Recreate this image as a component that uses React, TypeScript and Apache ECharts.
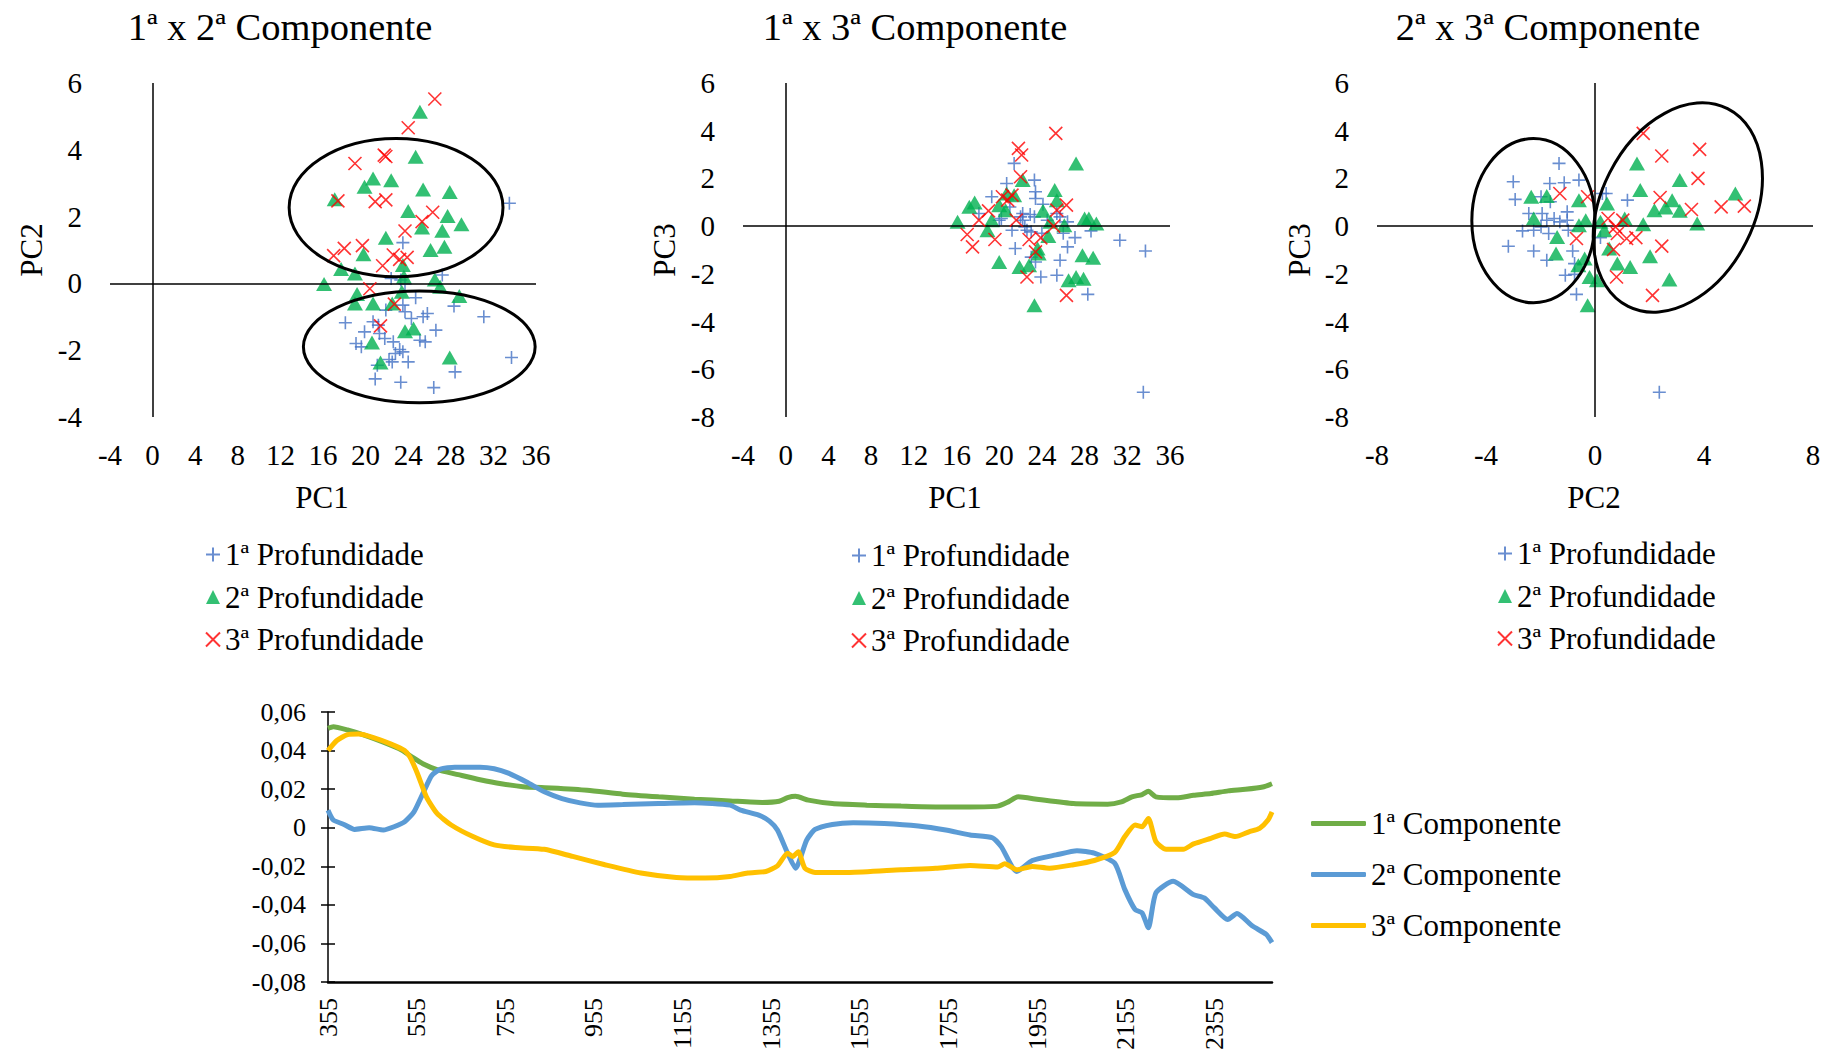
import React, { useEffect, useRef } from 'react';
import * as echarts from 'echarts';

const FONT = 'Liberation Serif';
const BLUE = '#4472C4';
const GREEN = '#00B050';
const RED = '#FF0000';

const depthNames = ['1ª Profundidade', '2ª Profundidade', '3ª Profundidade'];
const compNames = ['1ª Componente', '2ª Componente', '3ª Componente'];
const chartTitles = ['1ª x 2ª Componente', '1ª x 3ª Componente', '2ª x 3ª Componente'];

// ---- 1ª x 2ª (PC1, PC2)
const d1_pc12 = [[33.5,2.4],[23.5,1.22],[27.2,0.25],[22.4,0.15],[23.3,0.1],[23.7,-0.02],[24.7,-0.43],[28.3,-0.68],[31.1,-1.0],[21.9,-0.8],[23.5,-0.65],[23.7,-0.85],[24.3,-1.05],[25.4,-1.0],[25.8,-0.9],[18.1,-1.18],[20.7,-1.15],[21.2,-1.25],[19.9,-1.45],[21.3,-1.5],[26.6,-1.4],[25.1,-1.7],[25.6,-1.75],[21.8,-1.65],[22.6,-1.75],[19.1,-1.8],[19.6,-1.9],[23.2,-1.98],[23.5,-2.05],[22.8,-2.1],[22.2,-2.28],[22.5,-2.35],[24.0,-2.35],[33.7,-2.22],[21.1,-2.45],[28.4,-2.65],[20.9,-2.86],[23.3,-2.96],[26.4,-3.12]];
const d2_pc12 = [[25.1,5.14],[24.7,3.79],[20.7,3.14],[22.4,3.09],[19.9,2.89],[17.1,2.52],[25.4,2.81],[27.9,2.74],[24.0,2.17],[27.7,2.02],[29.0,1.77],[25.3,1.67],[27.2,1.58],[21.9,1.37],[26.1,1.0],[27.4,1.1],[19.8,0.87],[23.5,0.55],[17.7,0.43],[19.0,0.3],[23.6,0.2],[16.1,-0.02],[26.5,0.12],[27.0,-0.1],[19.2,-0.32],[23.4,-0.25],[28.8,-0.38],[19.0,-0.6],[20.7,-0.6],[22.5,-0.6],[23.7,-1.43],[24.5,-1.35],[20.6,-1.77],[21.4,-2.37],[27.9,-2.22]];
const d3_pc12 = [[26.5,5.52],[24.0,4.66],[21.75,3.84],[21.9,3.8],[19.0,3.59],[17.4,2.47],[20.9,2.45],[21.9,2.5],[26.3,2.13],[25.3,1.85],[23.7,1.57],[19.7,1.13],[18.0,1.05],[17.0,0.83],[22.6,0.85],[23.2,0.72],[23.9,0.78],[21.6,0.53],[20.4,-0.16],[22.7,-0.62],[21.4,-1.27]];

// ---- 1ª x 3ª (PC1, PC3)
const d1_pc13 = [[21.4,2.63],[23.3,1.93],[20.7,1.79],[23.4,1.44],[19.3,1.23],[23.4,1.16],[24.1,0.92],[21.0,0.8],[18.1,0.53],[22.2,0.53],[22.9,0.49],[25.4,0.53],[23.3,0.39],[22.0,0.39],[25.7,0.39],[20.2,0.32],[22.2,0.25],[24.5,0.25],[20.0,0.25],[26.4,0.18],[22.4,-0.03],[21.2,-0.17],[22.6,-0.17],[23.0,-0.24],[24.0,-0.3],[26.0,-0.3],[28.6,-0.2],[27.1,-0.48],[31.3,-0.59],[33.7,-1.04],[21.5,-0.94],[26.4,-0.87],[23.0,-1.3],[25.7,-1.43],[23.4,-1.5],[23.9,-2.13],[25.4,-2.06],[28.3,-2.86],[33.5,-6.96]];
const d2_pc13 = [[27.2,2.63],[22.2,1.93],[25.2,1.51],[25.4,1.09],[20.7,1.37],[21.4,1.3],[17.7,0.99],[17.2,0.81],[20.0,0.88],[20.6,0.67],[24.1,0.64],[19.3,0.25],[28.0,0.32],[28.4,0.32],[29.1,0.11],[26.1,0.04],[24.8,0.18],[16.1,0.18],[18.9,-0.17],[24.6,-0.41],[23.6,-0.94],[23.7,-1.15],[27.8,-1.22],[28.8,-1.32],[20.0,-1.5],[22.8,-1.64],[21.9,-1.71],[26.5,-2.27],[27.2,-2.13],[27.9,-2.2],[23.3,-3.32]];
const d3_pc13 = [[25.3,3.89],[21.8,3.26],[22.1,2.98],[22.0,2.07],[20.3,1.23],[21.2,1.3],[20.8,1.09],[26.3,0.88],[19.0,0.64],[25.4,0.67],[18.1,0.25],[21.6,0.25],[25.1,0.0],[17.0,-0.35],[19.6,-0.56],[22.8,-0.56],[23.9,-0.49],[17.5,-0.87],[23.4,-1.08],[22.6,-2.13],[26.3,-2.9]];

// ---- 2ª x 3ª (PC2, PC3)
const d1_pc23 = [[-1.32,2.63],[-3.0,1.86],[-1.66,1.79],[-1.13,1.82],[-0.59,1.93],[0.27,1.37],[0.41,1.37],[1.19,1.09],[-2.93,1.12],[-1.98,1.23],[-1.64,1.02],[-2.43,0.53],[-1.94,0.53],[-1.02,0.6],[-1.5,0.32],[-1.77,0.25],[-1.29,0.18],[-1.02,0.25],[-1.98,-0.03],[-2.25,-0.17],[-2.66,-0.2],[-1.7,-0.31],[-0.98,-0.17],[0.2,-0.48],[-3.18,-0.84],[-2.25,-1.04],[-0.82,-1.04],[-1.77,-1.43],[-0.75,-1.57],[-1.09,-2.06],[-0.75,-2.02],[-0.68,-2.86],[2.36,-6.96]];
const d2_pc23 = [[1.54,2.63],[3.11,1.93],[1.66,1.51],[5.15,1.37],[-2.34,1.23],[-1.77,1.26],[-0.59,1.09],[0.44,0.95],[2.83,1.09],[2.18,0.67],[2.59,0.78],[3.11,0.64],[-2.25,0.32],[-0.34,0.25],[1.09,0.32],[-0.59,0.04],[0.2,0.18],[1.77,0.08],[3.75,0.11],[0.34,-0.17],[-1.39,-0.45],[0.52,-0.94],[-1.43,-1.15],[2.02,-1.26],[0.82,-1.57],[1.29,-1.71],[-0.61,-1.64],[-0.38,-1.36],[-0.2,-2.13],[0.07,-2.27],[2.73,-2.24],[-0.27,-3.32]];
const d3_pc23 = [[1.77,3.89],[3.84,3.22],[2.45,2.94],[3.78,2.0],[-1.29,1.37],[-0.27,1.23],[2.39,1.2],[4.63,0.81],[5.48,0.84],[3.54,0.7],[0.48,0.32],[1.02,0.25],[0.75,-0.03],[0.82,-0.31],[1.16,-0.52],[1.5,-0.48],[-0.68,-0.52],[2.45,-0.84],[0.68,-0.98],[0.79,-2.13],[2.11,-2.9]];

// ellipses: [cx, cy, rx, ry, rotation (deg, + = counter-clockwise)]
const ellipses12 = [[22.86, 2.27, 10.04, 2.07, 0], [25.04, -1.9, 10.88, 1.67, 0]];
const ellipses23 = [[-2.26, 0.23, 2.26, 3.44, 0], [3.04, 0.78, 2.81, 4.64, -26.7]];

// ---- loadings (wavelength nm, value)
const wl1 = [355,367,399,440,480,520,545,569,601,649,698,746,795,859,940,1020,1101,1182,1262,1335,1373,1392,1410,1439,1493,1571,1648,1726,1804,1866,1890,1912,1959,2037,2114,2145,2169,2192,2206,2223,2270,2308,2347,2386,2425,2464,2485];
const comp1 = [0.0515,0.0524,0.0507,0.0478,0.0443,0.0404,0.0366,0.0332,0.0301,0.0275,0.0249,0.0228,0.0213,0.0206,0.0194,0.0174,0.016,0.0148,0.0139,0.0131,0.0137,0.0156,0.0163,0.0143,0.0125,0.0117,0.0112,0.0108,0.0108,0.0112,0.0134,0.016,0.0146,0.0125,0.0122,0.0134,0.016,0.0172,0.0189,0.016,0.0155,0.0168,0.0177,0.0191,0.0199,0.0211,0.0228];
const wl2 = [355,367,391,415,448,480,504,528,549,569,589,609,641,698,730,762,803,843,883,924,964,1020,1101,1182,1262,1286,1327,1351,1369,1392,1410,1435,1454,1493,1540,1610,1687,1749,1804,1854,1874,1909,1944,1998,2045,2084,2130,2153,2176,2192,2206,2223,2262,2308,2332,2355,2385,2406,2441,2472,2485];
const comp2 = [0.0091,0.004,0.0017,-0.0009,0.0,-0.0012,0.0005,0.0031,0.0082,0.0177,0.0271,0.0304,0.0314,0.0314,0.0306,0.0283,0.0237,0.0186,0.0151,0.0129,0.0117,0.012,0.0125,0.0129,0.0117,0.0091,0.0065,0.0034,-0.0012,-0.0132,-0.021,-0.0064,-0.0009,0.0017,0.0026,0.0022,0.0009,-0.0012,-0.0038,-0.0052,-0.0098,-0.0227,-0.017,-0.0141,-0.0119,-0.0132,-0.0184,-0.0321,-0.0424,-0.0442,-0.0519,-0.0338,-0.0278,-0.0347,-0.0364,-0.0416,-0.0476,-0.0445,-0.051,-0.0553,-0.0596];
const wl3 = [355,375,399,424,456,496,528,540,557,577,601,633,682,730,778,843,907,980,1061,1141,1206,1262,1302,1343,1369,1392,1404,1416,1431,1454,1532,1648,1726,1804,1866,1882,1909,1944,1983,2037,2084,2130,2153,2176,2192,2206,2223,2246,2285,2308,2347,2378,2402,2433,2457,2476,2485];
const comp3 = [0.04,0.0452,0.0483,0.0486,0.0469,0.0435,0.04,0.0366,0.028,0.016,0.0074,0.0014,-0.0046,-0.0089,-0.0103,-0.0112,-0.0149,-0.0192,-0.0235,-0.0258,-0.0261,-0.0253,-0.0235,-0.0227,-0.0198,-0.0132,-0.0149,-0.0124,-0.021,-0.0232,-0.0232,-0.0218,-0.021,-0.0196,-0.0204,-0.0187,-0.0218,-0.0201,-0.021,-0.0192,-0.017,-0.0129,-0.0046,0.0014,0.0005,0.0048,-0.0072,-0.0112,-0.0112,-0.0084,-0.0055,-0.0033,-0.0046,-0.0021,-0.0003,0.004,0.0082];

const WL0 = 355;
const WL_END = 2485;

export default function App() {
  const ref = useRef<HTMLDivElement>(null);

  useEffect(() => {
    document.body.style.margin = '0';
    if (!ref.current) return;
    const chart = echarts.init(ref.current, undefined, { renderer: 'svg' });

    const grids = [
      { left: 110, top: 83, width: 426, height: 334 },
      { left: 743, top: 83, width: 427, height: 334 },
      { left: 1377, top: 83, width: 436, height: 334 },
      { left: 328, top: 712, width: 944, height: 271 },
    ];

    const tickText = { fontFamily: FONT, fontSize: 29, color: '#000' };
    const noLine = { show: false, onZero: false };

    const xAxes: any[] = [
      { gridIndex: 0, type: 'value', min: -4, max: 36, interval: 4 },
      { gridIndex: 1, type: 'value', min: -4, max: 36, interval: 4 },
      { gridIndex: 2, type: 'value', min: -8, max: 8, interval: 4 },
    ].map((a) => ({
      ...a,
      axisLine: noLine,
      axisTick: { show: false },
      splitLine: { show: false },
      axisLabel: { ...tickText, margin: 23 },
    }));
    xAxes.push({
      gridIndex: 3,
      type: 'value',
      min: 0,
      max: WL_END - WL0,
      interval: 200,
      axisLine: { show: true, onZero: false, lineStyle: { color: '#000', width: 2.5 } },
      axisTick: { show: false },
      splitLine: { show: false },
      axisLabel: {
        fontFamily: FONT,
        fontSize: 26,
        color: '#000',
        rotate: 90,
        margin: 16,
        formatter: (v: number) => (Math.round(v) % 200 === 0 ? String(Math.round(v) + WL0) : ''),
      },
    });

    const yAxes: any[] = [
      { gridIndex: 0, type: 'value', min: -4, max: 6, interval: 2 },
      { gridIndex: 1, type: 'value', min: -8, max: 6, interval: 2 },
      { gridIndex: 2, type: 'value', min: -8, max: 6, interval: 2 },
    ].map((a) => ({
      ...a,
      axisLine: noLine,
      axisTick: { show: false },
      splitLine: { show: false },
      axisLabel: { ...tickText, margin: 28 },
    }));
    const fmtY = (v: number) => (Math.abs(v) < 1e-9 ? '0' : v.toFixed(2).replace('.', ','));
    yAxes.push({
      gridIndex: 3,
      type: 'value',
      position: 'left',
      min: -0.08,
      max: 0.06,
      interval: 0.02,
      axisLine: { show: true, onZero: false, lineStyle: { color: '#000', width: 1.5 } },
      axisTick: { show: true, length: 7, lineStyle: { color: '#000', width: 1.5 } },
      splitLine: { show: false },
      axisLabel: { fontFamily: FONT, fontSize: 26, color: '#000', margin: 22, formatter: fmtY },
    });
    yAxes.push({
      gridIndex: 3,
      type: 'value',
      position: 'left',
      offset: 0,
      min: -0.08,
      max: 0.06,
      interval: 0.02,
      axisLine: { show: false, onZero: false },
      axisTick: { show: true, inside: true, length: 7, lineStyle: { color: '#000', width: 1.5 } },
      splitLine: { show: false },
      axisLabel: { show: false },
    });

    const PLUS = 'path://M5,0L5,10M0,5L10,5';
    const CROSS = 'path://M0,0L10,10M10,0L0,10';

    const mkScatter = (gi: number, sets: number[][][], withZero: boolean) => {
      const styles = [
        { symbol: PLUS, symbolSize: 13, itemStyle: { color: BLUE, borderColor: BLUE, borderWidth: 1.6 } },
        { symbol: 'triangle', symbolSize: [16, 14], itemStyle: { color: GREEN, borderWidth: 0 } },
        { symbol: CROSS, symbolSize: 13, itemStyle: { color: RED, borderColor: RED, borderWidth: 1.6 } },
      ];
      return sets.map((data, k) => {
        const s: any = {
          type: 'scatter',
          name: depthNames[k],
          xAxisIndex: gi,
          yAxisIndex: gi,
          data,
          ...styles[k],
          emphasis: { disabled: true },
          z: 3 + k,
        };
        if (k === 0 && withZero) {
          s.markLine = {
            silent: true,
            symbol: ['none', 'none'],
            label: { show: false },
            lineStyle: { color: '#000', type: 'solid', width: 1.5 },
            emphasis: { disabled: true },
            data: [{ xAxis: 0 }, { yAxis: 0 }],
          };
        }
        return s;
      });
    };

    const mkEllipses = (gi: number, data: number[][]) => ({
      type: 'custom',
      xAxisIndex: gi,
      yAxisIndex: gi,
      silent: true,
      clip: false,
      z: 10,
      data,
      encode: { x: 0, y: 1 },
      renderItem: (_p: any, api: any) => {
        const c = api.coord([api.value(0), api.value(1)]);
        const s = api.size([api.value(2), api.value(3)]);
        return {
          type: 'ellipse',
          x: c[0],
          y: c[1],
          rotation: (api.value(4) * Math.PI) / 180,
          shape: { cx: 0, cy: 0, rx: s[0], ry: s[1] },
          style: { fill: 'none', stroke: '#000', lineWidth: 3 },
        };
      },
    });

    const lineColors = ['#70AD47', '#5B9BD5', '#FFC000'];
    const lineSets = [
      [wl1, comp1],
      [wl2, comp2],
      [wl3, comp3],
    ];
    const lineSeries = lineSets.map(([wl, vals], k) => ({
      type: 'line',
      name: compNames[k],
      xAxisIndex: 3,
      yAxisIndex: 3,
      data: wl.map((w, i) => [w - WL0, vals[i]]),
      showSymbol: false,
      symbol: 'none',
      smooth: 0.2,
      lineStyle: { color: lineColors[k], width: 5 },
      itemStyle: { color: lineColors[k] },
      emphasis: { disabled: true },
      z: 3 + k,
    }));

    const legendText = { fontFamily: FONT, fontSize: 31, color: '#000', lineHeight: 31 };
    const scatterLegend = (left: number, top: number) => ({
      orient: 'vertical',
      left,
      top,
      itemWidth: 14,
      itemHeight: 14,
      itemGap: 11.5,
      selectedMode: false,
      data: depthNames,
      textStyle: legendText,
      padding: 0,
    });

    const txt = (text: string, x: number, y: number, size: number, rot = 0) => ({
      type: 'text',
      x,
      y,
      rotation: rot,
      style: {
        text,
        font: `${size}px "${FONT}"`,
        fontFamily: FONT,
        fontSize: size,
        fill: '#000',
        align: 'center',
        verticalAlign: 'middle',
      },
      silent: true,
    });

    const option: any = {
      animation: false,
      backgroundColor: '#fff',
      textStyle: { fontFamily: FONT, color: '#000' },
      grid: grids,
      xAxis: xAxes,
      yAxis: yAxes,
      tooltip: { show: false },
      legend: [
        scatterLegend(205, 539),
        scatterLegend(851, 540),
        scatterLegend(1497, 538),
        {
          orient: 'vertical',
          left: 1311,
          top: 808,
          itemWidth: 55,
          itemHeight: 5,
          itemGap: 20,
          icon: 'roundRect',
          selectedMode: false,
          data: compNames,
          textStyle: legendText,
          padding: 0,
        },
      ],
      graphic: [
        txt(chartTitles[0], 280, 27, 38.5),
        txt(chartTitles[1], 915, 27, 38.5),
        txt(chartTitles[2], 1548, 27, 38.5),
        txt('PC1', 322, 497, 31),
        txt('PC1', 955, 497, 31),
        txt('PC2', 1594, 497, 31),
        txt('PC2', 31, 250, 31, Math.PI / 2),
        txt('PC3', 664, 250, 31, Math.PI / 2),
        txt('PC3', 1299, 250, 31, Math.PI / 2),
      ],
      series: [
        ...mkScatter(0, [d1_pc12, d2_pc12, d3_pc12], true),
        mkEllipses(0, ellipses12),
        ...mkScatter(1, [d1_pc13, d2_pc13, d3_pc13], true),
        ...mkScatter(2, [d1_pc23, d2_pc23, d3_pc23], true),
        mkEllipses(2, ellipses23),
        ...lineSeries,
      ],
    };

    chart.setOption(option);
    return () => chart.dispose();
  }, []);

  return <div ref={ref} style={{ width: 1840, height: 1053 }} />;
}
